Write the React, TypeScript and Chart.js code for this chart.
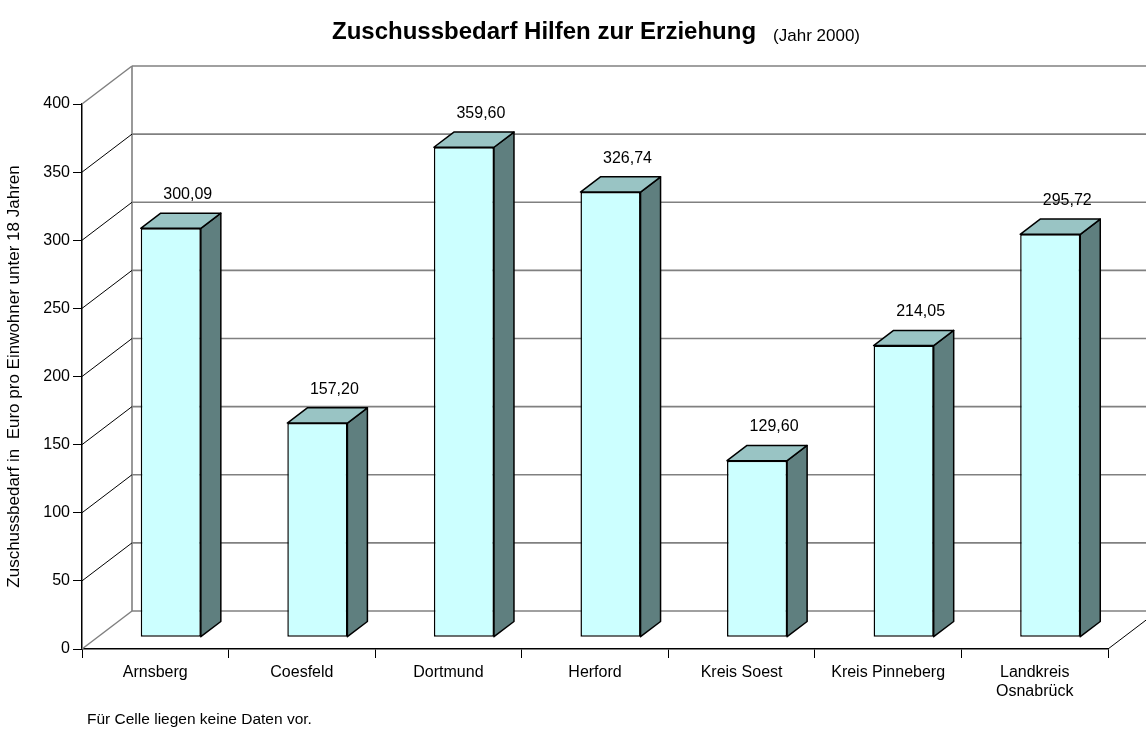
import React, { useEffect, useRef } from "react";
import { Chart, registerables } from "chart.js";

Chart.register(...registerables);

const categories: (string | string[])[] = [
  "Arnsberg",
  "Coesfeld",
  "Dortmund",
  "Herford",
  "Kreis Soest",
  "Kreis Pinneberg",
  ["Landkreis", "Osnabrück"],
];
const values = [300.09, 157.2, 359.6, 326.74, 129.6, 214.05, 295.72];
const yTicks = [0, 50, 100, 150, 200, 250, 300, 350, 400];
const titleText = "Zuschussbedarf Hilfen zur Erziehung";
const subtitleText = "(Jahr 2000)";
const yTitle = "Zuschussbedarf in  Euro pro Einwohner unter 18 Jahren";
const footnote = "Für Celle liegen keine Daten vor.";

const FONT = "'Liberation Sans', Arial, sans-serif";
const DX = 50;
const DY = -38;
const BAR_F = 0.31;
const BAR_B = 0.71;
const FRONT = "#CCFFFF";
const TOP = "#99C4C4";
const SIDE = "#5F7F7F";
const WALL = "#808080";

const fmt = (v: number) => v.toFixed(2).replace(".", ",");

const threeD = {
  id: "threeD",
  beforeDatasetsDraw(chart: any) {
    const { ctx, chartArea, scales } = chart;
    const { left, right, bottom } = chartArea;
    const y = scales.y;
    const line = (x1: number, y1: number, x2: number, y2: number) => {
      ctx.beginPath();
      ctx.moveTo(x1, y1);
      ctx.lineTo(x2, y2);
      ctx.stroke();
    };
    ctx.save();
    // back wall gridlines
    ctx.strokeStyle = WALL;
    ctx.lineWidth = 1.6;
    yTicks.forEach((v) => {
      const py = y.getPixelForValue(v) + DY;
      line(left + DX, py, right + DX, py);
    });
    line(
      left + DX,
      y.getPixelForValue(yTicks[yTicks.length - 1]) + DY,
      left + DX,
      y.getPixelForValue(0) + DY
    );
    // left wall diagonals
    yTicks.forEach((v, i) => {
      const py = y.getPixelForValue(v);
      const edge = i === 0 || i === yTicks.length - 1;
      ctx.strokeStyle = edge ? WALL : "#000";
      ctx.lineWidth = edge ? 1.5 : 1;
      line(left, py, left + DX, py + DY);
    });
    // right floor edge
    ctx.strokeStyle = "#000";
    ctx.lineWidth = 1;
    line(right, bottom, right + DX, bottom + DY);
    ctx.restore();
    ctx.save();
    ctx.translate(DX * BAR_F, DY * BAR_F);
  },
  afterDatasetsDraw(chart: any) {
    const { ctx } = chart;
    ctx.restore();
    const meta = chart.getDatasetMeta(0);
    const ox = DX * BAR_F;
    const oy = DY * BAR_F;
    const sx = DX * (BAR_B - BAR_F);
    const sy = DY * (BAR_B - BAR_F);
    ctx.save();
    ctx.lineWidth = 1.5;
    ctx.strokeStyle = "#000";
    ctx.lineJoin = "round";
    meta.data.forEach((bar: any, i: number) => {
      const p = bar.getProps(["x", "y", "base", "width"], true);
      const l = p.x - p.width / 2 + ox;
      const r = p.x + p.width / 2 + ox;
      const t = p.y + oy;
      const b = p.base + oy;
      // side face
      ctx.beginPath();
      ctx.moveTo(r, t);
      ctx.lineTo(r + sx, t + sy);
      ctx.lineTo(r + sx, b + sy);
      ctx.lineTo(r, b);
      ctx.closePath();
      ctx.fillStyle = SIDE;
      ctx.fill();
      ctx.stroke();
      // top face
      ctx.beginPath();
      ctx.moveTo(l, t);
      ctx.lineTo(l + sx, t + sy);
      ctx.lineTo(r + sx, t + sy);
      ctx.lineTo(r, t);
      ctx.closePath();
      ctx.fillStyle = TOP;
      ctx.fill();
      ctx.stroke();
      // value label
      ctx.fillStyle = "#000";
      ctx.font = `16px ${FONT}`;
      ctx.textAlign = "center";
      ctx.textBaseline = "middle";
      ctx.fillText(fmt(values[i]), p.x + ox + 17, t + sy - 18.5);
    });
    ctx.restore();
  },
  afterDraw(chart: any) {
    const { ctx } = chart;
    ctx.save();
    ctx.fillStyle = "#000";
    ctx.textBaseline = "alphabetic";
    ctx.textAlign = "left";
    ctx.font = `bold 24px ${FONT}`;
    const w1 = ctx.measureText(titleText).width;
    ctx.font = `17px ${FONT}`;
    const w2 = ctx.measureText(subtitleText).width;
    const gap = 17;
    const start = 596 - (w1 + gap + w2) / 2;
    ctx.font = `bold 24px ${FONT}`;
    ctx.fillText(titleText, start, 39);
    ctx.font = `17px ${FONT}`;
    ctx.fillText(subtitleText, start + w1 + gap, 41);
    // footnote
    ctx.font = `15.5px ${FONT}`;
    ctx.fillText(footnote, 87, 724);
    ctx.restore();
  },
};

export default function App() {
  const ref = useRef<HTMLCanvasElement>(null);
  useEffect(() => {
    if (!ref.current) return;
    const chart = new Chart(ref.current, {
      type: "bar",
      data: {
        labels: categories as any,
        datasets: [
          {
            data: values,
            backgroundColor: FRONT,
            borderColor: "#000",
            borderWidth: 1.5,
            borderSkipped: false,
            barPercentage: 0.41,
            categoryPercentage: 1,
          },
        ],
      },
      plugins: [threeD],
      options: {
        responsive: false,
        animation: false,
        events: [],
        layout: { padding: { top: 104, right: 38, left: 0, bottom: 0 } },
        plugins: {
          legend: { display: false },
          title: { display: false },
          tooltip: { enabled: false },
        },
        scales: {
          x: {
            grid: {
              offset: true,
              drawOnChartArea: false,
              drawTicks: true,
              tickLength: 9,
              color: "#000",
              lineWidth: 1,
            },
            border: { color: "#000", width: 1.5 },
            ticks: {
              color: "#000",
              font: { family: FONT, size: 16 },
              padding: 5,
              maxRotation: 0,
              autoSkip: false,
            },
            afterFit: (s: any) => {
              s.height = 82;
            },
          },
          y: {
            min: 0,
            max: 400,
            grid: {
              drawOnChartArea: false,
              drawTicks: true,
              tickLength: 9,
              color: "#000",
              lineWidth: 1,
            },
            border: { color: "#000", width: 1.5 },
            ticks: {
              stepSize: 50,
              color: "#000",
              font: { family: FONT, size: 16 },
              padding: 3,
            },
            title: {
              display: true,
              text: yTitle,
              color: "#000",
              font: { family: FONT, size: 17 },
              padding: { top: 4, bottom: 4 },
            },
            afterFit: (s: any) => {
              s.width = 82;
            },
          },
        },
      },
    });
    return () => chart.destroy();
  }, []);
  return (
    <div style={{ position: "fixed", left: 0, top: 0, width: 1146, height: 731, background: "#fff" }}>
      <canvas ref={ref} width={1146} height={731} />
    </div>
  );
}
